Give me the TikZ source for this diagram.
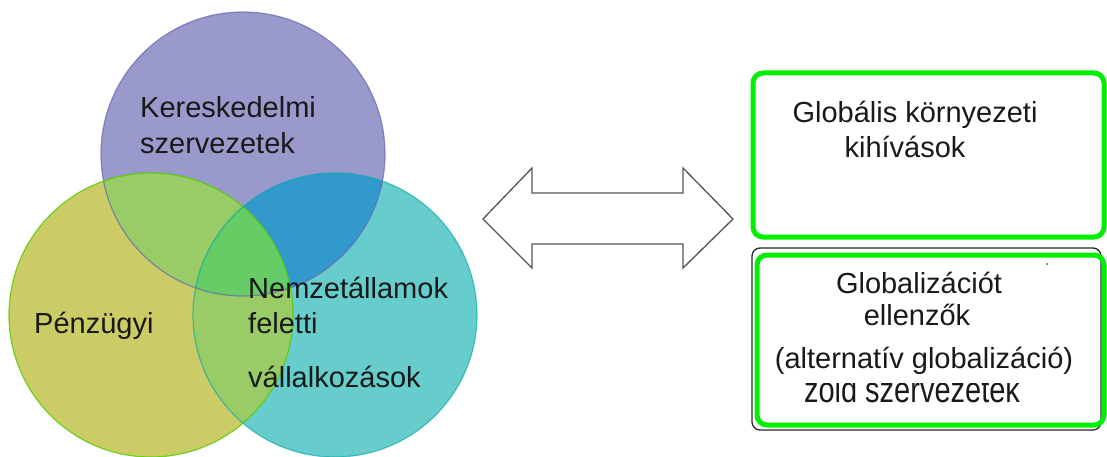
\documentclass[tikz,border=0pt]{standalone}
\usepackage{fontspec}
\setmainfont{Liberation Sans}
\usepackage{tikz}
\definecolor{tradepurple}{RGB}{153,153,204}
\definecolor{financeyellow}{RGB}{204,204,102}
\definecolor{firmteal}{RGB}{102,204,204}
\definecolor{mixgreen}{RGB}{153,204,102}
\definecolor{mixblue}{RGB}{51,153,204}
\definecolor{centergreen}{RGB}{102,204,102}
\definecolor{boxgreen}{RGB}{0,240,0}
\definecolor{arrowgray}{RGB}{85,85,85}
\begin{document}
\begin{tikzpicture}[x=1pt,y=-1pt,
  lbl/.style={font=\fontsize{29}{33}\selectfont,text=black!90,inner sep=0pt},
  greenbox/.style={draw=boxgreen,line width=5pt,rounded corners=10pt}]
\useasboundingbox (0,0) rectangle (1107,457);
% Circle centres
\coordinate (kc) at (243,154);
\coordinate (pc) at (151,315);
\coordinate (nc) at (335,315);
% Base fills
\fill[tradepurple] (kc) circle (142pt);
\fill[financeyellow] (pc) circle (142pt);
\fill[firmteal] (nc) circle (142pt);
% Overlaps
\begin{scope}
\clip (kc) circle (142pt);
\fill[mixgreen] (pc) circle (142pt);
\fill[mixblue] (nc) circle (142pt);
\end{scope}
\begin{scope}
\clip (pc) circle (142pt);
\fill[mixgreen] (nc) circle (142pt);
\clip (nc) circle (142pt);
\fill[centergreen] (kc) circle (142pt);
\end{scope}
% Outlines
\draw[blue!50!black!60,opacity=0.7,line width=1.2pt] (kc) circle (142pt);
\draw[green!60!yellow!80!black,opacity=0.8,line width=1.2pt] (pc) circle (142pt);
\draw[teal!70!cyan,opacity=0.6,line width=1.2pt] (nc) circle (142pt);
% Circle labels
\node[lbl,anchor=base west] (ker1) at (140,118) {Kereskedelmi};
\node[lbl,anchor=base west] (ker2) at (140,154) {szervezetek};
\node[lbl,anchor=base west] (penz) at (34,333) {Pénzügyi};
\node[lbl,anchor=base west] (nem1) at (248,298) {Nemzetállamok};
\node[lbl,anchor=base west] (nem2) at (248,333) {feletti};
\node[lbl,anchor=base west] (nem3) at (248,387) {vállalkozások};
% Double arrow
\draw[arrowgray,line width=1.3pt,fill=white,line join=miter]
  (483,219) -- (532,168) -- (532,193) -- (683,193) -- (683,168) -- (733,219)
  -- (683,268) -- (683,244) -- (532,244) -- (532,268) -- cycle;
% Upper box
\draw[greenbox] (753,73) rectangle (1104,237);
\node[lbl,anchor=base] (env1) at (915,123) {Globális környezeti};
\node[lbl,anchor=base] (env2) at (905,158) {kihívások};
% Lower box
\draw[black!85,line width=1.3pt,rounded corners=8pt] (752,248) rectangle (1101,430);
\draw[greenbox] (757,255) rectangle (1104,425);
\fill[black!70] (1047,264) circle (1pt);
\node[lbl,anchor=base] (anti1) at (919,293) {Globalizációt};
\node[lbl,anchor=base] (anti2) at (917,325) {ellenzők};
\node[lbl,anchor=base] (anti3) at (924,368) {(alternatív globalizáció)};
\begin{scope}
\clip (760,383.5) rectangle (1100,420);
\node[lbl,anchor=base] (anti4) at (912,402) {\smash{\scalebox{1}[1.25]{zöld szervezetek}}};
\end{scope}
\end{tikzpicture}
\end{document}
